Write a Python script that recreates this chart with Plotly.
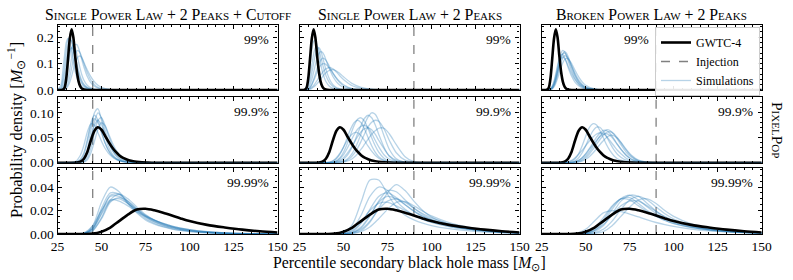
import plotly.graph_objects as go
from plotly.subplots import make_subplots

# ---------------- data ----------------
MODELS = ["Single Power Law + 2 Peaks + Cutoff", "Single Power Law + 2 Peaks", "Broken Power Law + 2 Peaks"]
PERCENTILES = ["99%", "99.9%", "99.99%"]
INJECTION = [45, 90, 90]
X_TICKS = [25, 50, 75, 100, 125, 150]

# 99th percentile
GRID_99 = [25, 27, 28, 29, 30, 31, 32, 33, 34, 35, 36, 37, 38, 39, 40, 42, 44, 46, 48, 50, 55, 60, 65, 70, 150]
GWTC4_99 = [0, 0, 0.001, 0.008, 0.045, 0.12, 0.195, 0.23, 0.2, 0.13, 0.07, 0.032, 0.013, 0.005, 0.002, 0, 0, 0, 0, 0, 0, 0, 0, 0, 0]
SIM_99_SPL_CUT = [
    [0, 0.01, 0.04, 0.09, 0.15, 0.19, 0.2, 0.185, 0.15, 0.11, 0.077, 0.052, 0.034, 0.022, 0.014, 0.006, 0.0025, 0.001, 0, 0, 0, 0, 0, 0, 0],
    [0, 0.005, 0.025, 0.06, 0.11, 0.16, 0.188, 0.185, 0.16, 0.125, 0.09, 0.062, 0.042, 0.028, 0.018, 0.008, 0.0035, 0.0015, 0.0005, 0, 0, 0, 0, 0, 0],
    [0, 0, 0.002, 0.008, 0.022, 0.045, 0.08, 0.12, 0.152, 0.172, 0.172, 0.158, 0.135, 0.11, 0.087, 0.05, 0.027, 0.014, 0.007, 0.003, 0.0005, 0, 0, 0, 0],
    [0, 0, 0, 0.003, 0.01, 0.025, 0.05, 0.082, 0.112, 0.135, 0.148, 0.148, 0.138, 0.12, 0.1, 0.064, 0.037, 0.02, 0.01, 0.005, 0.001, 0, 0, 0, 0],
    [0, 0, 0.006, 0.02, 0.05, 0.09, 0.13, 0.16, 0.17, 0.16, 0.135, 0.105, 0.077, 0.054, 0.037, 0.017, 0.008, 0.0035, 0.0015, 0.0005, 0, 0, 0, 0, 0],
    [0, 0.002, 0.012, 0.035, 0.075, 0.115, 0.148, 0.16, 0.152, 0.13, 0.1, 0.073, 0.05, 0.033, 0.022, 0.009, 0.004, 0.0015, 0.0005, 0, 0, 0, 0, 0, 0],
    [0, 0, 0, 0.002, 0.006, 0.015, 0.03, 0.052, 0.077, 0.1, 0.118, 0.128, 0.128, 0.12, 0.105, 0.075, 0.05, 0.031, 0.018, 0.01, 0.002, 0, 0, 0, 0],
    [0, 0.02, 0.07, 0.13, 0.18, 0.195, 0.18, 0.145, 0.105, 0.072, 0.048, 0.031, 0.02, 0.013, 0.008, 0.003, 0.001, 0, 0, 0, 0, 0, 0, 0, 0],
]
SIM_99_SPL = [
    [0, 0, 0.003, 0.015, 0.045, 0.095, 0.15, 0.183, 0.19, 0.17, 0.135, 0.1, 0.07, 0.048, 0.032, 0.014, 0.006, 0.0025, 0.001, 0, 0, 0, 0, 0, 0],
    [0, 0, 0.002, 0.008, 0.025, 0.055, 0.095, 0.135, 0.16, 0.165, 0.152, 0.128, 0.1, 0.076, 0.055, 0.028, 0.013, 0.006, 0.0025, 0.001, 0, 0, 0, 0, 0],
    [0, 0, 0, 0.002, 0.008, 0.02, 0.04, 0.067, 0.095, 0.12, 0.137, 0.145, 0.143, 0.132, 0.115, 0.08, 0.051, 0.031, 0.018, 0.01, 0.002, 0.0005, 0, 0, 0],
    [0, 0, 0, 0.001, 0.004, 0.01, 0.022, 0.04, 0.06, 0.082, 0.1, 0.113, 0.12, 0.119, 0.112, 0.09, 0.064, 0.043, 0.027, 0.016, 0.004, 0.001, 0, 0, 0],
    [0, 0, 0, 0, 0.002, 0.005, 0.01, 0.017, 0.026, 0.036, 0.047, 0.057, 0.066, 0.074, 0.08, 0.085, 0.08, 0.068, 0.053, 0.04, 0.016, 0.006, 0.002, 0.0005, 0],
    [0, 0, 0, 0, 0.001, 0.003, 0.006, 0.011, 0.017, 0.024, 0.032, 0.041, 0.05, 0.058, 0.065, 0.074, 0.077, 0.072, 0.062, 0.05, 0.024, 0.01, 0.004, 0.001, 0],
    [0, 0, 0, 0.001, 0.004, 0.01, 0.02, 0.034, 0.05, 0.067, 0.082, 0.093, 0.099, 0.1, 0.097, 0.083, 0.064, 0.046, 0.031, 0.02, 0.005, 0.001, 0, 0, 0],
    [0, 0, 0.001, 0.005, 0.015, 0.035, 0.065, 0.1, 0.133, 0.155, 0.16, 0.15, 0.128, 0.102, 0.078, 0.042, 0.02, 0.009, 0.004, 0.0015, 0, 0, 0, 0, 0],
]
SIM_99_BPL = [
    [0, 0, 0, 0.001, 0.004, 0.012, 0.028, 0.053, 0.085, 0.117, 0.14, 0.15, 0.145, 0.13, 0.11, 0.072, 0.043, 0.024, 0.013, 0.007, 0.001, 0, 0, 0, 0],
    [0, 0, 0, 0, 0.003, 0.009, 0.022, 0.043, 0.071, 0.1, 0.124, 0.137, 0.14, 0.133, 0.118, 0.083, 0.052, 0.03, 0.017, 0.009, 0.002, 0, 0, 0, 0],
    [0, 0, 0, 0, 0.002, 0.006, 0.016, 0.033, 0.056, 0.082, 0.105, 0.121, 0.13, 0.128, 0.12, 0.092, 0.062, 0.038, 0.022, 0.012, 0.003, 0, 0, 0, 0],
    [0, 0, 0, 0.001, 0.005, 0.015, 0.034, 0.062, 0.093, 0.119, 0.133, 0.134, 0.123, 0.105, 0.085, 0.052, 0.029, 0.016, 0.008, 0.004, 0.001, 0, 0, 0, 0],
    [0, 0, 0, 0, 0.002, 0.005, 0.012, 0.025, 0.043, 0.064, 0.085, 0.103, 0.115, 0.12, 0.118, 0.1, 0.074, 0.05, 0.031, 0.018, 0.004, 0.001, 0, 0, 0],
    [0, 0, 0, 0.001, 0.004, 0.011, 0.025, 0.046, 0.073, 0.1, 0.118, 0.125, 0.12, 0.108, 0.092, 0.062, 0.038, 0.022, 0.012, 0.006, 0.001, 0, 0, 0, 0],
    [0, 0, 0, 0, 0.002, 0.006, 0.017, 0.036, 0.063, 0.094, 0.121, 0.138, 0.145, 0.14, 0.127, 0.091, 0.057, 0.033, 0.018, 0.009, 0.002, 0, 0, 0, 0],
]

# 99.9th percentile
GRID_999 = [25, 35, 38, 40, 42, 44, 46, 48, 50, 52, 54, 56, 58, 60, 62, 64, 66, 68, 70, 73, 76, 80, 85, 90, 150]
GWTC4_999 = [0, 0, 0.002, 0.008, 0.022, 0.045, 0.064, 0.071, 0.066, 0.054, 0.042, 0.031, 0.022, 0.015, 0.01, 0.007, 0.0045, 0.003, 0.002, 0.001, 0.0005, 0, 0, 0, 0]
SIM_999_SPL_CUT = [
    [0, 0, 0.001, 0.006, 0.025, 0.065, 0.1, 0.108, 0.085, 0.055, 0.032, 0.018, 0.01, 0.005, 0.0025, 0.001, 0, 0, 0, 0, 0, 0, 0, 0, 0],
    [0, 0, 0.001, 0.004, 0.017, 0.047, 0.082, 0.1, 0.09, 0.066, 0.043, 0.026, 0.015, 0.008, 0.004, 0.002, 0.001, 0, 0, 0, 0, 0, 0, 0, 0],
    [0, 0.001, 0.007, 0.02, 0.048, 0.08, 0.095, 0.085, 0.062, 0.04, 0.024, 0.014, 0.008, 0.004, 0.002, 0.001, 0, 0, 0, 0, 0, 0, 0, 0, 0],
    [0, 0, 0, 0.002, 0.01, 0.03, 0.06, 0.085, 0.09, 0.075, 0.054, 0.036, 0.023, 0.014, 0.008, 0.005, 0.003, 0.0015, 0.001, 0, 0, 0, 0, 0, 0],
    [0, 0.002, 0.015, 0.035, 0.062, 0.078, 0.075, 0.06, 0.043, 0.029, 0.019, 0.012, 0.007, 0.004, 0.002, 0.001, 0, 0, 0, 0, 0, 0, 0, 0, 0],
    [0, 0, 0.002, 0.007, 0.022, 0.05, 0.075, 0.085, 0.076, 0.058, 0.04, 0.026, 0.016, 0.01, 0.006, 0.003, 0.002, 0.001, 0, 0, 0, 0, 0, 0, 0],
    [0, 0, 0, 0.001, 0.006, 0.02, 0.043, 0.067, 0.08, 0.074, 0.058, 0.041, 0.027, 0.017, 0.011, 0.007, 0.004, 0.002, 0.001, 0, 0, 0, 0, 0, 0],
    [0, 0.001, 0.005, 0.016, 0.042, 0.074, 0.088, 0.08, 0.06, 0.04, 0.025, 0.015, 0.009, 0.005, 0.003, 0.001, 0, 0, 0, 0, 0, 0, 0, 0, 0],
]
SIM_999_SPL = [
    [0, 0, 0, 0, 0.001, 0.003, 0.008, 0.017, 0.031, 0.049, 0.067, 0.08, 0.085, 0.08, 0.067, 0.05, 0.034, 0.021, 0.012, 0.005, 0.002, 0, 0, 0, 0],
    [0, 0, 0, 0, 0, 0.001, 0.004, 0.01, 0.021, 0.037, 0.056, 0.074, 0.087, 0.09, 0.083, 0.068, 0.05, 0.034, 0.021, 0.009, 0.003, 0.001, 0, 0, 0],
    [0, 0, 0, 0, 0, 0, 0.002, 0.005, 0.01, 0.018, 0.028, 0.04, 0.052, 0.062, 0.068, 0.07, 0.066, 0.057, 0.045, 0.028, 0.014, 0.005, 0.001, 0, 0],
    [0, 0, 0, 0, 0, 0, 0.001, 0.003, 0.007, 0.014, 0.025, 0.04, 0.058, 0.075, 0.089, 0.095, 0.09, 0.076, 0.057, 0.031, 0.013, 0.003, 0, 0, 0],
    [0, 0, 0, 0, 0, 0, 0, 0.001, 0.003, 0.007, 0.014, 0.025, 0.04, 0.058, 0.077, 0.092, 0.1, 0.097, 0.084, 0.054, 0.027, 0.008, 0.001, 0, 0],
    [0, 0, 0, 0, 0, 0, 0, 0.001, 0.002, 0.005, 0.01, 0.018, 0.029, 0.043, 0.058, 0.072, 0.081, 0.085, 0.083, 0.068, 0.045, 0.02, 0.005, 0.001, 0],
    [0, 0, 0, 0, 0, 0.001, 0.003, 0.008, 0.016, 0.028, 0.042, 0.056, 0.067, 0.073, 0.075, 0.07, 0.059, 0.045, 0.032, 0.016, 0.007, 0.002, 0, 0, 0],
    [0, 0, 0, 0, 0, 0, 0, 0, 0.001, 0.003, 0.006, 0.011, 0.018, 0.027, 0.037, 0.047, 0.057, 0.064, 0.069, 0.069, 0.058, 0.036, 0.012, 0.002, 0],
    [0, 0, 0, 0, 0.001, 0.004, 0.01, 0.019, 0.031, 0.044, 0.054, 0.06, 0.06, 0.054, 0.044, 0.033, 0.023, 0.015, 0.009, 0.004, 0.001, 0, 0, 0, 0],
]
SIM_999_BPL = [
    [0, 0, 0, 0.001, 0.003, 0.008, 0.018, 0.034, 0.053, 0.07, 0.078, 0.076, 0.065, 0.05, 0.035, 0.023, 0.014, 0.008, 0.005, 0.002, 0.001, 0, 0, 0, 0],
    [0, 0, 0, 0, 0.001, 0.004, 0.01, 0.02, 0.034, 0.05, 0.063, 0.071, 0.071, 0.063, 0.051, 0.038, 0.026, 0.017, 0.011, 0.005, 0.002, 0, 0, 0, 0],
    [0, 0, 0, 0, 0, 0.002, 0.005, 0.01, 0.018, 0.028, 0.039, 0.05, 0.059, 0.065, 0.064, 0.058, 0.048, 0.037, 0.027, 0.015, 0.007, 0.002, 0, 0, 0],
    [0, 0, 0, 0, 0, 0.001, 0.003, 0.007, 0.013, 0.021, 0.031, 0.042, 0.053, 0.061, 0.066, 0.064, 0.057, 0.047, 0.036, 0.021, 0.011, 0.003, 0.001, 0, 0],
    [0, 0, 0, 0, 0, 0, 0.002, 0.005, 0.01, 0.017, 0.026, 0.036, 0.046, 0.055, 0.061, 0.062, 0.058, 0.05, 0.04, 0.025, 0.013, 0.004, 0.001, 0, 0],
    [0, 0, 0, 0, 0.001, 0.002, 0.005, 0.01, 0.017, 0.026, 0.035, 0.044, 0.052, 0.057, 0.058, 0.054, 0.046, 0.036, 0.027, 0.015, 0.007, 0.002, 0, 0, 0],
    [0, 0, 0.001, 0.002, 0.005, 0.01, 0.017, 0.025, 0.034, 0.043, 0.051, 0.057, 0.06, 0.058, 0.052, 0.043, 0.034, 0.025, 0.018, 0.009, 0.004, 0.001, 0, 0, 0],
    [0, 0, 0, 0, 0, 0, 0.001, 0.003, 0.007, 0.012, 0.019, 0.027, 0.036, 0.044, 0.051, 0.055, 0.054, 0.049, 0.041, 0.027, 0.015, 0.005, 0.001, 0, 0],
]

# 99.99th percentile
GRID_9999 = [25, 40, 45, 50, 55, 60, 65, 70, 75, 80, 85, 90, 95, 100, 110, 120, 130, 140, 150]
GWTC4_9999 = [0, 0, 0.0003, 0.002, 0.0055, 0.011, 0.0165, 0.0208, 0.0215, 0.0202, 0.0182, 0.0158, 0.0133, 0.011, 0.0078, 0.0056, 0.0037, 0.0023, 0.0013]
SIM_9999_SPL_CUT = [
    [0, 0.0005, 0.007, 0.027, 0.04, 0.036, 0.026, 0.018, 0.012, 0.0085, 0.006, 0.0042, 0.003, 0.0021, 0.001, 0.0004, 0.0001, 0, 0],
    [0, 0.0003, 0.004, 0.018, 0.033, 0.034, 0.028, 0.021, 0.015, 0.0105, 0.0075, 0.0054, 0.0038, 0.0027, 0.0013, 0.0006, 0.0002, 0, 0],
    [0, 0.0004, 0.005, 0.02, 0.032, 0.032, 0.026, 0.02, 0.0145, 0.0105, 0.0076, 0.0055, 0.004, 0.0029, 0.0014, 0.0007, 0.0003, 0.0001, 0],
    [0, 0.0002, 0.003, 0.014, 0.029, 0.034, 0.03, 0.023, 0.0165, 0.0118, 0.0085, 0.006, 0.0043, 0.003, 0.0015, 0.0007, 0.0003, 0.0001, 0],
    [0, 0.0004, 0.0045, 0.017, 0.028, 0.03, 0.026, 0.0205, 0.0155, 0.0118, 0.009, 0.0067, 0.005, 0.0037, 0.0019, 0.001, 0.0005, 0.0002, 0],
    [0, 0.001, 0.007, 0.02, 0.029, 0.028, 0.024, 0.019, 0.015, 0.0118, 0.009, 0.0068, 0.0051, 0.0038, 0.002, 0.001, 0.0005, 0.0002, 0],
    [0, 0.0002, 0.0028, 0.013, 0.027, 0.031, 0.028, 0.0215, 0.016, 0.0118, 0.0087, 0.0063, 0.0046, 0.0033, 0.0017, 0.0008, 0.0004, 0.0001, 0],
    [0, 0.0004, 0.005, 0.022, 0.035, 0.034, 0.027, 0.019, 0.0133, 0.0093, 0.0065, 0.0046, 0.0032, 0.0023, 0.0011, 0.0005, 0.0002, 0, 0],
]
SIM_9999_SPL = [
    [0, 0, 0, 0.001, 0.008, 0.027, 0.046, 0.046, 0.034, 0.023, 0.016, 0.012, 0.0092, 0.0072, 0.0045, 0.0028, 0.0017, 0.001, 0.0005],
    [0, 0, 0, 0.0005, 0.004, 0.016, 0.032, 0.04, 0.037, 0.028, 0.021, 0.016, 0.0125, 0.0098, 0.0062, 0.0039, 0.0024, 0.0014, 0.0008],
    [0, 0, 0, 0.0003, 0.002, 0.009, 0.021, 0.032, 0.035, 0.031, 0.025, 0.0195, 0.015, 0.012, 0.0076, 0.0048, 0.003, 0.0018, 0.001],
    [0, 0, 0, 0, 0.001, 0.005, 0.015, 0.028, 0.037, 0.036, 0.029, 0.022, 0.0165, 0.0125, 0.0076, 0.0046, 0.0028, 0.0016, 0.0009],
    [0, 0, 0, 0, 0.0005, 0.003, 0.01, 0.022, 0.035, 0.042, 0.037, 0.028, 0.02, 0.0145, 0.0082, 0.0047, 0.0027, 0.0015, 0.0008],
    [0, 0, 0, 0, 0.001, 0.004, 0.011, 0.021, 0.028, 0.03, 0.027, 0.022, 0.0175, 0.0138, 0.0088, 0.0055, 0.0034, 0.002, 0.0012],
    [0, 0, 0, 0.0002, 0.0015, 0.006, 0.016, 0.027, 0.032, 0.03, 0.025, 0.0195, 0.015, 0.0117, 0.0073, 0.0045, 0.0028, 0.0017, 0.001],
    [0, 0, 0, 0, 0.0005, 0.002, 0.006, 0.013, 0.021, 0.027, 0.0275, 0.024, 0.0195, 0.0155, 0.0098, 0.006, 0.0036, 0.0021, 0.0012],
    [0, 0, 0, 0.0004, 0.003, 0.01, 0.02, 0.026, 0.027, 0.024, 0.02, 0.016, 0.0127, 0.0101, 0.0066, 0.0043, 0.0028, 0.0017, 0.001],
]
SIM_9999_BPL = [
    [0, 0, 0.0008, 0.004, 0.011, 0.018, 0.02, 0.019, 0.017, 0.0145, 0.012, 0.0098, 0.008, 0.0065, 0.0042, 0.0027, 0.0017, 0.001, 0.0006],
    [0, 0, 0, 0.001, 0.005, 0.014, 0.024, 0.03, 0.029, 0.024, 0.019, 0.015, 0.0115, 0.0089, 0.0055, 0.0034, 0.0021, 0.0013, 0.0008],
    [0, 0, 0, 0.0005, 0.003, 0.01, 0.021, 0.03, 0.033, 0.029, 0.023, 0.0175, 0.0132, 0.01, 0.0061, 0.0037, 0.0023, 0.0014, 0.0008],
    [0, 0, 0, 0.0003, 0.002, 0.007, 0.017, 0.028, 0.033, 0.032, 0.026, 0.0195, 0.0145, 0.0108, 0.0064, 0.0038, 0.0023, 0.0014, 0.0008],
    [0, 0, 0, 0, 0.001, 0.004, 0.011, 0.021, 0.029, 0.032, 0.029, 0.023, 0.0172, 0.0128, 0.0074, 0.0043, 0.0025, 0.0015, 0.0009],
    [0, 0, 0, 0, 0.0005, 0.002, 0.007, 0.015, 0.023, 0.029, 0.03, 0.026, 0.02, 0.015, 0.0086, 0.005, 0.0029, 0.0017, 0.001],
    [0, 0, 0, 0.0006, 0.004, 0.012, 0.023, 0.03, 0.031, 0.026, 0.02, 0.0155, 0.0118, 0.009, 0.0056, 0.0035, 0.0022, 0.0013, 0.0008],
    [0, 0, 0, 0.0005, 0.003, 0.008, 0.016, 0.024, 0.028, 0.028, 0.024, 0.0192, 0.0148, 0.0114, 0.007, 0.0043, 0.0027, 0.0016, 0.001],
]

GRIDS = [GRID_99, GRID_999, GRID_9999]
GWTC4 = [GWTC4_99, GWTC4_999, GWTC4_9999]
SIMS = [
    [SIM_99_SPL_CUT, SIM_99_SPL, SIM_99_BPL],
    [SIM_999_SPL_CUT, SIM_999_SPL, SIM_999_BPL],
    [SIM_9999_SPL_CUT, SIM_9999_SPL, SIM_9999_BPL],
]
Y_MAX = [0.245, 0.131, 0.056]
Y_DTICK = [0.1, 0.05, 0.02]
Y_MINOR = [0.02, 0.01, 0.005]
Y_FMT = [".1f", ".2f", ".2f"]

# ---------------- layout helpers ----------------
# body margin is removed by a post script so the figure fills the window
W, H = 793, 280
ML, MR, MT, MB = 57, 31, 25, 46
PW, PH = W - ML - MR, H - MT - MB


def px(xr):  # screenshot x -> paper fraction
    return (xr - ML) / PW


def py(yr):  # screenshot y -> paper fraction
    return (H - MB - yr) / PH


COL_PIX = [(57.5, 277.5), (299.5, 519.5), (541.7, 761.7)]
ROW_PIX = [(25.3, 90.0), (97.3, 162.7), (168.3, 234.3)]

FONT = "Liberation Serif, Times New Roman, serif"
BLUE = "rgba(31,119,180,0.32)"

fig = make_subplots(rows=3, cols=3)

for r in range(3):
    for c in range(3):
        row, col = r + 1, c + 1
        first = (r == 0 and c == 0)
        fig.add_trace(go.Scatter(
            x=[INJECTION[c], INJECTION[c]], y=[0, Y_MAX[r]], mode="lines",
            line=dict(color="#808080", width=1.3, dash="dash"),
            name="Injection", legendgroup="inj", showlegend=first, legendrank=2,
            hoverinfo="skip"), row=row, col=col)
        for i, sim in enumerate(SIMS[r][c]):
            fig.add_trace(go.Scatter(
                x=GRIDS[r], y=sim, mode="lines",
                line=dict(color=BLUE, width=1.3, shape="spline", smoothing=0.8),
                name="Simulations", legendgroup="sim", showlegend=(first and i == 0),
                legendrank=3, hoverinfo="skip"), row=row, col=col)
        fig.add_trace(go.Scatter(
            x=GRIDS[r], y=GWTC4[r], mode="lines",
            line=dict(color="black", width=2.6, shape="spline", smoothing=0.8),
            name="GWTC-4", legendgroup="gw", showlegend=first, legendrank=1,
            hoverinfo="skip"), row=row, col=col)

tick_font = dict(family=FONT, size=13.5, color="black")
for r in range(3):
    for c in range(3):
        n = r * 3 + c + 1
        xa = "xaxis" if n == 1 else f"xaxis{n}"
        ya = "yaxis" if n == 1 else f"yaxis{n}"
        x0, x1 = COL_PIX[c]
        y0, y1 = ROW_PIX[r]
        fig.layout[xa].update(
            domain=[max(0, px(x0)), min(1, px(x1))], range=[25, 150],
            tickvals=X_TICKS, showticklabels=(r == 2), tickfont=tick_font,
            ticks="inside", ticklen=4, tickwidth=1, tickcolor="black",
            showline=True, linecolor="black", linewidth=1.3, mirror="allticks",
            showgrid=False, zeroline=False,
            minor=dict(ticks="inside", ticklen=2, tickwidth=0.8, tickcolor="black", dtick=5, tick0=25))
        fig.layout[ya].update(
            domain=[max(0, py(y1)), min(1, py(y0))], range=[0, Y_MAX[r]],
            dtick=Y_DTICK[r], tick0=0, tickformat=Y_FMT[r], showticklabels=(c == 0),
            tickfont=tick_font,
            ticks="inside", ticklen=4, tickwidth=1, tickcolor="black",
            showline=True, linecolor="black", linewidth=1.3, mirror="allticks",
            showgrid=False, zeroline=False,
            minor=dict(ticks="inside", ticklen=2, tickwidth=0.8, tickcolor="black", dtick=Y_MINOR[r], tick0=0))

annotations = []
for c in range(3):
    x0, x1 = COL_PIX[c]
    annotations.append(dict(
        text=MODELS[c], x=px((x0 + x1) / 2), y=py(14), xref="paper", yref="paper",
        xanchor="center", yanchor="middle", showarrow=False,
        font=dict(family=FONT, size=15.8, color="black", variant="small-caps")))
    for r in range(3):
        y0, y1 = ROW_PIX[r]
        right = 650.7 if (r == 0 and c == 2) else x1 - 6.5
        annotations.append(dict(
            text=PERCENTILES[r], x=px(right), y=py(y0 + 14.5), xref="paper", yref="paper",
            xanchor="right", yanchor="middle", showarrow=False,
            font=dict(family=FONT, size=13.5, color="black")))

annotations.append(dict(
    text="Probability density [<i>M</i><sub>⊙</sub><sup>−1</sup>]",
    x=px(16), y=py(130), xref="paper", yref="paper", textangle=-90,
    xanchor="center", yanchor="middle", showarrow=False,
    font=dict(family=FONT, size=16.5, color="black")))
annotations.append(dict(
    text="Percentile secondary black hole mass [<i>M</i><sub>⊙</sub>]",
    x=px(409.6), y=py(263.5), xref="paper", yref="paper",
    xanchor="center", yanchor="middle", showarrow=False,
    font=dict(family=FONT, size=15.8, color="black")))
annotations.append(dict(
    text="PixelPop", x=px(778), y=py(130), xref="paper", yref="paper", textangle=90,
    xanchor="center", yanchor="middle", showarrow=False,
    font=dict(family=FONT, size=15.5, color="black", variant="small-caps")))

fig.update_layout(
    width=W, height=H, margin=dict(l=ML, r=MR, t=MT, b=MB),
    paper_bgcolor="white", plot_bgcolor="white",
    annotations=annotations,
    showlegend=True,
    legend=dict(x=px(655), y=py(27), xanchor="left", yanchor="top",
                bgcolor="rgba(255,255,255,0.9)", bordercolor="#cccccc", borderwidth=1,
                font=dict(family=FONT, size=12, color="black"),
                tracegroupgap=0, itemwidth=30),
)

fig.write_html(
    "out.html",
    config={"displayModeBar": False},
    post_script="document.body.style.margin='0px';document.body.style.overflow='hidden';",
)
